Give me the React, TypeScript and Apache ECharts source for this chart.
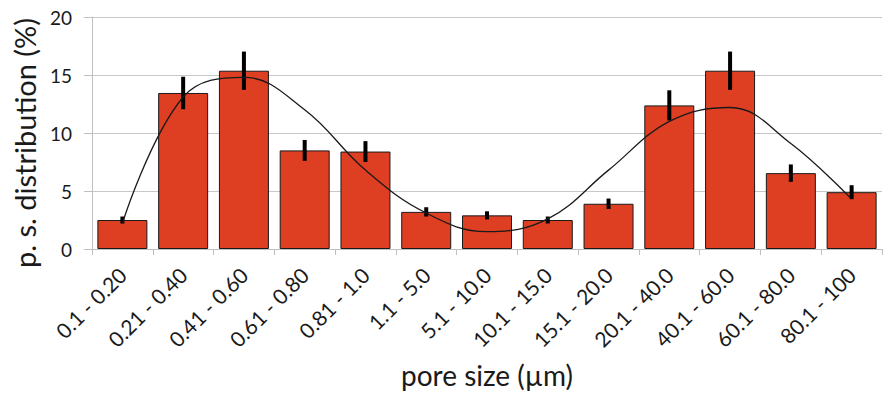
import React, { useEffect, useRef } from "react";
import * as echarts from "echarts";

const categories = [
  "0.1 - 0.20", "0.21 - 0.40", "0.41 - 0.60", "0.61 - 0.80", "0.81 - 1.0",
  "1.1 - 5.0", "5.1 - 10.0", "10.1 - 15.0", "15.1 - 20.0", "20.1 - 40.0",
  "40.1 - 60.0", "60.1 - 80.0", "80.1 - 100",
];
const values = [2.5, 13.45, 15.37, 8.5, 8.4, 3.2, 2.9, 2.5, 3.9, 12.38, 15.37, 6.54, 4.9];
const errors = [0.3, 1.4, 1.65, 0.9, 0.9, 0.4, 0.35, 0.3, 0.45, 1.3, 1.65, 0.75, 0.6];
const trend = [2.2, 13.1, 14.8, 12.0, 6.8, 3.1, 1.5, 2.6, 6.8, 11.0, 12.2, 9.1, 4.3];
const yTicks = [0, 5, 10, 15, 20];

const FONT = "Lato, 'Open Sans', sans-serif";

export default function App() {
  const ref = useRef<HTMLDivElement>(null);
  useEffect(() => {
    if (!ref.current) return;
    const chart = echarts.init(ref.current, null, { renderer: "svg" });
    const errData = values.map((v, i) => [i, v - errors[i], v + errors[i]]);
    chart.setOption({
      animation: false,
      backgroundColor: "#ffffff",
      textStyle: { fontFamily: FONT },
      grid: { left: 92, right: 1, top: 17, bottom: 147, containLabel: false, outerBoundsMode: "none" },
      xAxis: {
        type: "category",
        data: categories,
        name: "pore size (\u00b5m)",
        nameLocation: "middle",
        nameGap: 112,
        nameTextStyle: { fontSize: 28, color: "#1a1a1a", fontFamily: FONT },
        axisLine: { show: true, lineStyle: { color: "#bfbfbf", width: 1 } },
        axisTick: { show: true, length: 6, lineStyle: { color: "#bfbfbf" } },
        axisLabel: { rotate: 45, fontSize: 21, color: "#1a1a1a", margin: 22, fontFamily: FONT },
        splitLine: { show: false },
      },
      yAxis: {
        type: "value",
        min: yTicks[0],
        max: yTicks[yTicks.length - 1],
        interval: 5,
        name: "p. s. distribution (%)",
        nameLocation: "middle",
        nameGap: 42,
        nameRotate: 90,
        nameTextStyle: { fontSize: 29, color: "#1a1a1a", fontFamily: FONT, padding: [0, 20, 0, 0] },
        axisLine: { show: true, lineStyle: { color: "#bfbfbf", width: 1 } },
        axisTick: { show: true, length: 8, lineStyle: { color: "#bfbfbf" } },
        axisLabel: { fontSize: 19, color: "#1a1a1a", margin: 20, fontFamily: FONT },
        splitLine: { show: true, lineStyle: { color: "#c8c8c8", width: 1 } },
      },
      series: [
        {
          type: "bar",
          data: values,
          barWidth: 50,
          itemStyle: { color: "#de3e22", borderColor: "#1a1a1a", borderWidth: 1 },
          z: 2,
        },
        {
          type: "custom",
          data: errData,
          z: 4,
          renderItem: (params: any, api: any) => {
            const i = api.value(0);
            const lo = api.coord([i, api.value(1)]);
            const hi = api.coord([i, api.value(2)]);
            return {
              type: "line",
              shape: { x1: lo[0], y1: lo[1], x2: hi[0], y2: hi[1] },
              style: { stroke: "#000000", lineWidth: 4 },
            };
          },
          encode: { x: 0, y: [1, 2] },
        },
        {
          type: "line",
          data: trend,
          smooth: 0.4,
          symbol: "none",
          lineStyle: { color: "#1a1a1a", width: 1.3 },
          z: 5,
        },
      ],
    });
    return () => chart.dispose();
  }, []);
  return (
    <div
      ref={ref}
      style={{ position: "fixed", left: 0, top: 0, width: 883, height: 396, background: "#fff" }}
    />
  );
}
